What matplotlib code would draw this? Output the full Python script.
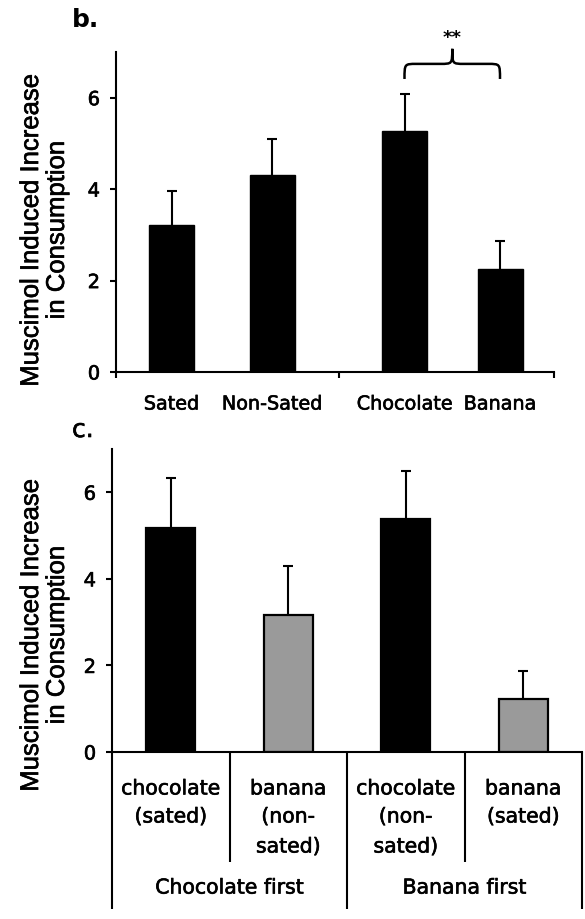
import matplotlib
matplotlib.use('Agg')
import matplotlib.pyplot as plt
from matplotlib.path import Path
from matplotlib.patches import PathPatch
import matplotlib.transforms as mtransforms
import matplotlib.patheffects as pe

# ---------------- data ----------------
# Panel b
b_labels = ['Sated', 'Non-Sated', 'Chocolate', 'Banana']
b_pos = [0.555, 1.56, 2.885, 3.84]          # category positions on the axis
b_means = [3.21, 4.30, 5.28, 2.26]
b_sem = [0.75, 0.79, 0.80, 0.61]
b_sig = '**'

# Panel c
c_labels = ['chocolate\n(sated)', 'banana\n(non-\nsated)',
            'chocolate\n(non-\nsated)', 'banana\n(sated)']
c_groups = ['Chocolate first', 'Banana first']
c_means = [5.17, 3.17, 5.38, 1.23]
c_sem = [1.15, 1.12, 1.12, 0.64]
c_colors = ['black', '#9a9a9a', 'black', '#9a9a9a']

yticks = [0, 2, 4, 6]
ylabel = 'Muscimol Induced Increase\nin Consumption'

# ---------------- layout helpers ----------------
W, H = 585, 920
fig = plt.figure(figsize=(W / 100, H / 100), dpi=100)
fig.patch.set_facecolor('white')

HEAVY = [pe.withStroke(linewidth=0.45, foreground='black')]


def fx(px):
    return px / W


def fy(py):
    return 1 - py / H


axb = fig.add_axes([fx(116), fy(373), fx(554) - fx(116), fy(53) - fy(373)])
axc = fig.add_axes([fx(112), fy(753), fx(582) - fx(112), fy(450) - fy(753)])

LW = 1.5
for ax in (axb, axc):
    ax.set_ylim(0, 7)
    ax.spines['top'].set_visible(False)
    ax.spines['right'].set_visible(False)
    ax.spines['left'].set_linewidth(LW)
    ax.spines['bottom'].set_linewidth(LW)
    ax.set_yticks(yticks)
    ax.tick_params(axis='y', direction='out', length=4.5, width=LW,
                   pad=7, labelsize=14)
    for t in ax.get_yticklabels():
        t.set_path_effects(HEAVY)
    ax.set_facecolor('none')


def up_errorbars(ax, x, m, s):
    eb = ax.errorbar(x, m, yerr=[[0] * len(s), s], fmt='none', ecolor='black',
                     elinewidth=LW, capsize=3.5, capthick=LW, zorder=1)
    caps = eb[1]
    if len(caps) == 2:
        caps[0].set_visible(False)


# ---------------- panel b ----------------
axb.bar(b_pos, b_means, width=0.45, color='black', edgecolor='black',
        linewidth=1, zorder=2)
up_errorbars(axb, b_pos, b_means, b_sem)
axb.set_xlim(0, 4.38)
axb.set_xticks([0, 2.23, 4.38])
axb.set_xticklabels([])
axb.tick_params(axis='x', direction='out', length=4.5, width=LW)

tb = mtransforms.blended_transform_factory(axb.transData, axb.transAxes)
for p, lab in zip(b_pos, b_labels):
    axb.text(p, -0.1, lab, transform=tb, ha='center', va='center',
             fontsize=13.8, path_effects=HEAVY)

# significance brace between Chocolate and Banana
x1, x2 = b_pos[2], b_pos[3]
xm = (x1 + x2) / 2
y_end, y_h, y_pk = 6.41, 6.74, 7.07
d = 0.12
verts = [
    (x1, y_end), (x1, y_h), (x1, y_h), (x1 + d, y_h),
    (xm - d, y_h),
    (xm, y_h), (xm, y_h), (xm, y_pk),
    (xm, y_h), (xm, y_h), (xm + d, y_h),
    (x2 - d, y_h),
    (x2, y_h), (x2, y_h), (x2, y_end),
]
codes = [Path.MOVETO, Path.CURVE4, Path.CURVE4, Path.CURVE4,
         Path.LINETO,
         Path.CURVE4, Path.CURVE4, Path.CURVE4,
         Path.CURVE4, Path.CURVE4, Path.CURVE4,
         Path.LINETO,
         Path.CURVE4, Path.CURVE4, Path.CURVE4]
brace = PathPatch(Path(verts, codes), facecolor='none', edgecolor='black',
                  linewidth=1.8, clip_on=False)
axb.add_patch(brace)
axb.text(xm, 7.33, b_sig, ha='center', va='center', fontsize=13,
         fontweight='bold', clip_on=False)

# ---------------- panel c ----------------
xc = list(range(len(c_means)))
axc.bar(xc, c_means, width=0.415, color=c_colors, edgecolor='black',
        linewidth=1.6, zorder=2)
up_errorbars(axc, xc, c_means, c_sem)
axc.set_xlim(-0.5, len(c_means) - 0.5)
axc.set_xticks([])

tc = mtransforms.blended_transform_factory(axc.transData, axc.transAxes)
# table separators below the axis
for i in range(len(c_means) + 1):
    xb = i - 0.5
    ybot = -0.518 if i % 2 == 0 else -0.363
    axc.plot([xb, xb], [0, ybot], transform=tc, clip_on=False,
             color='black', linewidth=LW, solid_capstyle='butt')

row_y = [-0.122, -0.2145, -0.3135]
for x, lab in zip(xc, c_labels):
    for r, line in enumerate(lab.split('\n')):
        axc.text(x, row_y[r], line, transform=tc, ha='center', va='center',
                 fontsize=14.7, path_effects=HEAVY)
for g, lab in enumerate(c_groups):
    axc.text(2 * g + 0.5, -0.449, lab, transform=tc, ha='center', va='center',
             fontsize=14.7, path_effects=HEAVY)

# ---------------- panel letters and y labels ----------------
fig.text(fx(72), fy(27), 'b.', fontsize=18, fontweight='bold',
         ha='left', va='baseline')
fig.text(fx(72), fy(438), 'c.', fontsize=18, ha='left', va='baseline',
         path_effects=HEAVY)

for yc in (231, 636):
    fig.text(fx(44), fy(yc), ylabel, rotation=90, ha='center', va='center',
             fontsize=18.5, family='Liberation Sans', linespacing=1.1,
             multialignment='center', path_effects=HEAVY)

fig.savefig('out.png', dpi=100, facecolor='white')
